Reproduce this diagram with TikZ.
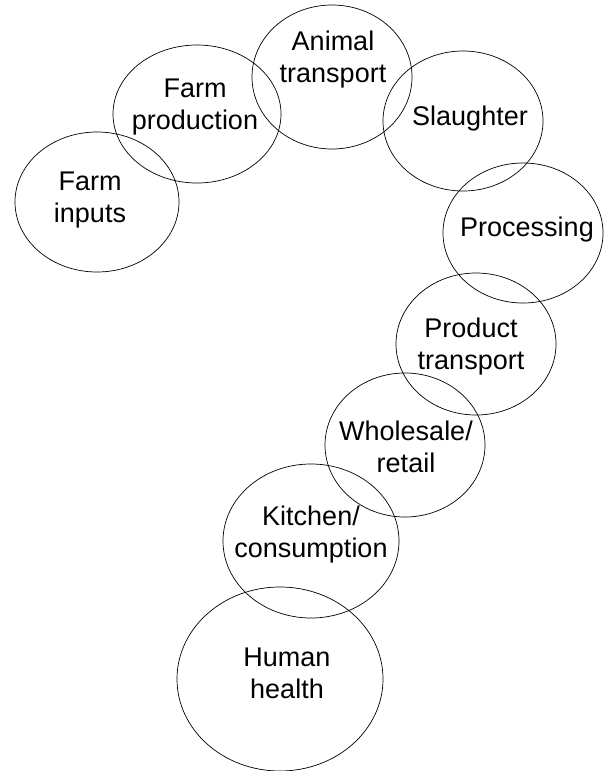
\documentclass[tikz,border=0pt]{standalone}
\usepackage{fontspec}
\setmainfont{Liberation Sans}
\usetikzlibrary{shapes.geometric}
\begin{document}
\begin{tikzpicture}[x=1pt,y=-1pt,
  ring/.style={draw=black, line width=0.7pt, ellipse, inner sep=0pt},
  lbl/.style={align=center, inner sep=0pt, font=\fontsize{27}{32}\selectfont}]
\useasboundingbox (0,0) rectangle (607,771);
\node[ring, minimum width=164pt, minimum height=140pt] (e1) at (97,202) {};
\node[ring, minimum width=168pt, minimum height=138pt] (e2) at (197,114) {};
\node[ring, minimum width=160pt, minimum height=144pt] (e3) at (332,77) {};
\node[ring, minimum width=160pt, minimum height=140pt] (e4) at (463,121) {};
\node[ring, minimum width=160pt, minimum height=140pt] (e5) at (523,233) {};
\node[ring, minimum width=160pt, minimum height=142pt] (e6) at (476,344) {};
\node[ring, minimum width=160pt, minimum height=144pt] (e7) at (405,445) {};
\node[ring, minimum width=176pt, minimum height=154pt] (e8) at (311,541) {};
\node[ring, minimum width=206pt, minimum height=184pt] (e9) at (280,679) {};
\node[lbl] (t1) at (90,200) {Farm\\inputs};
\node[lbl] (t2) at (195,107) {Farm\\production};
\node[lbl] (t3) at (333,60) {Animal\\transport};
\node[lbl] (t4) at (470,119) {Slaughter};
\node[lbl] (t5) at (527,230) {Processing};
\node[lbl] (t6) at (471,347) {Product\\transport};
\node[lbl] (t7) at (406,447) {Wholesale/\\retail};
\node[lbl] (t8) at (311,535) {Kitchen/\\consumption};
\node[lbl] (t9) at (287,673) {Human\\health};
\end{tikzpicture}
\end{document}
